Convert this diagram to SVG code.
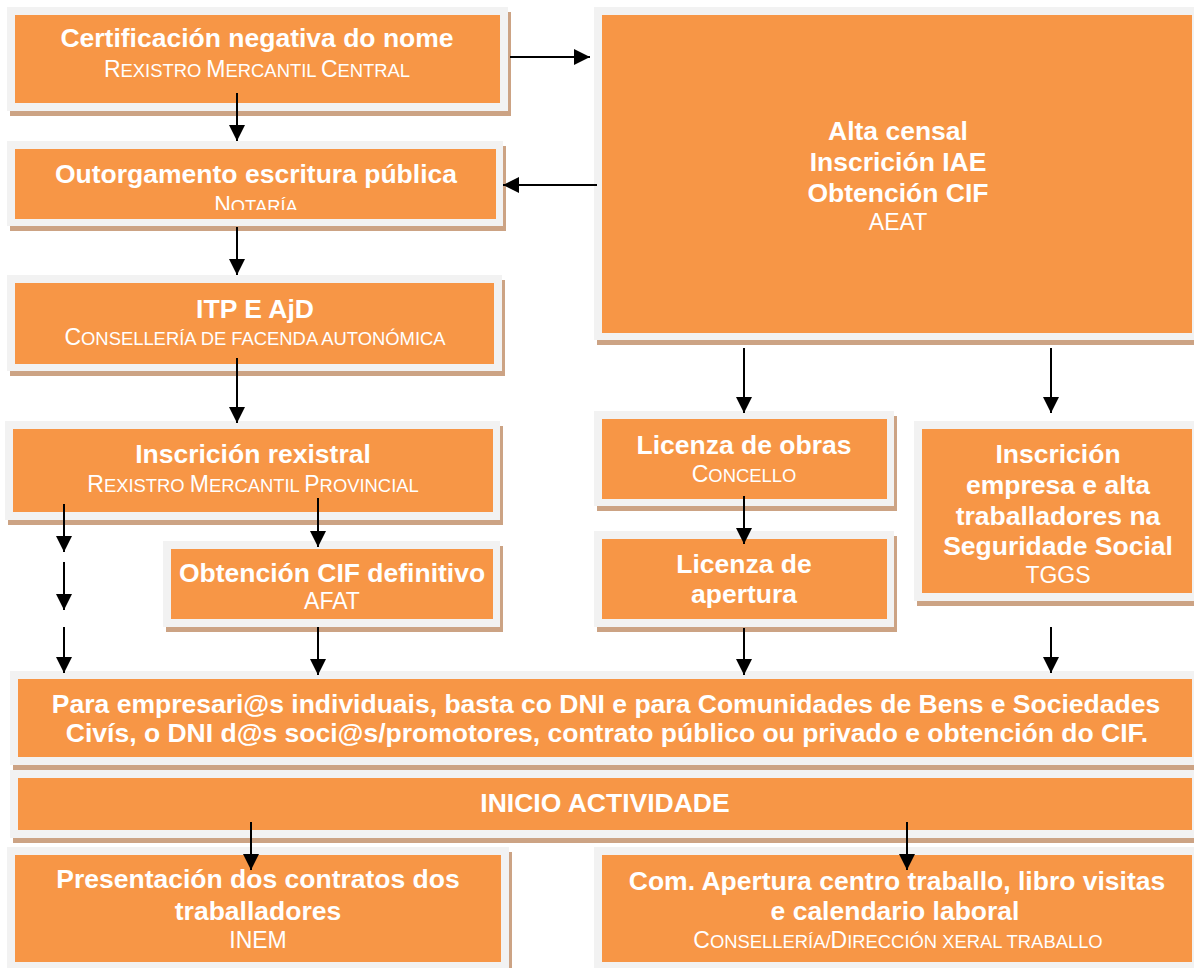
<svg xmlns="http://www.w3.org/2000/svg" width="1194" height="968" viewBox="0 0 1194 968">
<style>
.frame{fill:#F2F2F2}
.box{fill:#F79646}
.shadow{fill:#CCA384}
.t{font-family:"Liberation Sans",Arial,sans-serif;fill:#FFFFFF;text-anchor:middle}
.b{font-weight:bold;font-size:26.5px}
.s{font-size:18.4px}
.L{font-size:23px}
.p{font-size:23px}
.conn line{stroke:#000;stroke-width:2;marker-end:url(#ah)}
</style>
<defs>
<marker id="ah" viewBox="0 0 16 16" refX="16" refY="8" markerWidth="16" markerHeight="16" markerUnits="userSpaceOnUse" orient="auto">
<path d="M0,0 L16,8 L0,16 z" fill="#000"/>
</marker>
<clipPath id="clipNot"><rect x="15" y="149" width="481" height="61"/></clipPath>
</defs>
<rect width="1194" height="968" fill="#FFFFFF"/>

<g id="n-certificacion">
<rect class="shadow" x="10" y="12" width="501" height="104"/>
<rect class="frame" x="7" y="7" width="501" height="104"/>
<rect class="box" x="15" y="15" width="485" height="88"/>
<text class="t b" x="257" y="47">Certificación negativa do nome</text>
<text class="t s" x="257" y="77"><tspan class="L">R</tspan>EXISTRO <tspan class="L">M</tspan>ERCANTIL <tspan class="L">C</tspan>ENTRAL</text>
</g>

<g id="n-outorgamento">
<rect class="shadow" x="10" y="146" width="496" height="85"/>
<rect class="frame" x="7" y="141" width="496" height="85"/>
<rect class="box" x="15" y="149" width="481" height="70"/>
<text class="t b" x="256" y="183">Outorgamento escritura pública</text>
<text class="t s" x="256" y="213" clip-path="url(#clipNot)"><tspan class="L">N</tspan>OTARÍA</text>
</g>

<g id="n-itp">
<rect class="shadow" x="10" y="280" width="495" height="96"/>
<rect class="frame" x="7" y="275" width="495" height="96"/>
<rect class="box" x="15" y="283" width="479" height="81"/>
<text class="t b" x="255" y="318">ITP E AjD</text>
<text class="t s" x="255" y="345"><tspan class="L">C</tspan>ONSELLERÍA DE FACENDA AUTONÓMICA</text>
</g>

<g id="n-inscricion-rexistral">
<rect class="shadow" x="8" y="426" width="495" height="99"/>
<rect class="frame" x="5" y="421" width="495" height="99"/>
<rect class="box" x="13" y="429" width="480" height="83"/>
<text class="t b" x="253" y="463">Inscrición rexistral</text>
<text class="t s" x="253" y="492"><tspan class="L">R</tspan>EXISTRO <tspan class="L">M</tspan>ERCANTIL <tspan class="L">P</tspan>ROVINCIAL</text>
</g>

<g id="n-cif-definitivo">
<rect class="shadow" x="166" y="546" width="337" height="86"/>
<rect class="frame" x="163" y="541" width="337" height="86"/>
<rect class="box" x="171" y="549" width="322" height="70"/>
<text class="t b" x="332" y="582">Obtención CIF definitivo</text>
<text class="t p" x="332" y="609">AFAT</text>
</g>

<g id="n-aeat">
<rect class="shadow" x="597" y="12" width="608" height="333"/>
<rect class="frame" x="594" y="7" width="608" height="333"/>
<rect class="box" x="602" y="15" width="590" height="318"/>
<text class="t b" x="898" y="140">Alta censal</text>
<text class="t b" x="898" y="171">Inscrición IAE</text>
<text class="t b" x="898" y="202">Obtención CIF</text>
<text class="t p" x="898" y="230">AEAT</text>
</g>

<g id="n-licenza-obras">
<rect class="shadow" x="597" y="416" width="300" height="95"/>
<rect class="frame" x="594" y="411" width="300" height="95"/>
<rect class="box" x="602" y="419" width="285" height="80"/>
<text class="t b" x="744" y="454">Licenza de obras</text>
<text class="t s" x="744" y="482"><tspan class="L">C</tspan>ONCELLO</text>
</g>

<g id="n-licenza-apertura">
<rect class="shadow" x="597" y="536" width="300" height="96"/>
<rect class="frame" x="594" y="531" width="300" height="96"/>
<rect class="box" x="602" y="539" width="285" height="80"/>
<text class="t b" x="744" y="573">Licenza de</text>
<text class="t b" x="744" y="603">apertura</text>
</g>

<g id="n-seguridade-social">
<rect class="shadow" x="917" y="426" width="288" height="180"/>
<rect class="frame" x="914" y="421" width="288" height="180"/>
<rect class="box" x="922" y="429" width="270" height="164"/>
<text class="t b" x="1058" y="463">Inscrición</text>
<text class="t b" x="1058" y="494">empresa e alta</text>
<text class="t b" x="1058" y="525">traballadores na</text>
<text class="t b" x="1058" y="555">Seguridade Social</text>
<text class="t p" x="1058" y="583">TGGS</text>
</g>

<g id="n-requisitos">
<rect class="shadow" x="13" y="676" width="1192" height="94"/>
<rect class="frame" x="10" y="671" width="1192" height="94"/>
<rect class="box" x="18" y="679" width="1174" height="78"/>
<text class="t b" x="606" y="713">Para empresari@s individuais, basta co DNI e para Comunidades de Bens e Sociedades</text>
<text class="t b" x="607" y="742">Civís, o DNI d@s soci@s/promotores, contrato público ou privado e obtención do CIF.</text>
</g>

<g id="n-inicio">
<rect class="shadow" x="13" y="775" width="1192" height="68"/>
<rect class="frame" x="10" y="770" width="1192" height="68"/>
<rect class="box" x="18" y="778" width="1174" height="52"/>
<text class="t b" x="605" y="812">INICIO ACTIVIDADE</text>
</g>

<g id="n-contratos">
<rect class="shadow" x="10" y="852" width="502" height="130"/>
<rect class="frame" x="7" y="847" width="502" height="130"/>
<rect class="box" x="15" y="855" width="486" height="107"/>
<text class="t b" x="258" y="888">Presentación dos contratos dos</text>
<text class="t b" x="258" y="920">traballadores</text>
<text class="t p" x="258" y="948">INEM</text>
</g>

<g id="n-apertura-centro">
<rect class="shadow" x="597" y="852" width="608" height="130"/>
<rect class="frame" x="594" y="847" width="608" height="130"/>
<rect class="box" x="602" y="855" width="590" height="107"/>
<text class="t b" x="897" y="890">Com. Apertura centro traballo, libro visitas</text>
<text class="t b" x="895" y="920">e calendario laboral</text>
<text class="t s" x="898" y="948"><tspan class="L">C</tspan>ONSELLERÍA/<tspan class="L">D</tspan>IRECCIÓN XERAL TRABALLO</text>
</g>

<g id="connectors" class="conn">
<line x1="237" y1="93" x2="237" y2="141"/>
<line x1="510" y1="57" x2="590" y2="57"/>
<line x1="597" y1="185" x2="503" y2="185"/>
<line x1="237" y1="227" x2="237" y2="275"/>
<line x1="237" y1="358" x2="237" y2="423"/>
<line x1="64" y1="504" x2="64" y2="552"/>
<line x1="64" y1="562" x2="64" y2="610"/>
<line x1="64" y1="627" x2="64" y2="673"/>
<line x1="318" y1="498" x2="318" y2="547"/>
<line x1="318" y1="627" x2="318" y2="675"/>
<line x1="744" y1="348" x2="744" y2="413"/>
<line x1="1051" y1="348" x2="1051" y2="413"/>
<line x1="744" y1="496" x2="744" y2="544"/>
<line x1="744" y1="628" x2="744" y2="675"/>
<line x1="1051" y1="627" x2="1051" y2="673"/>
<line x1="251" y1="822" x2="251" y2="870"/>
<line x1="907" y1="822" x2="907" y2="870"/>
</g>
</svg>
